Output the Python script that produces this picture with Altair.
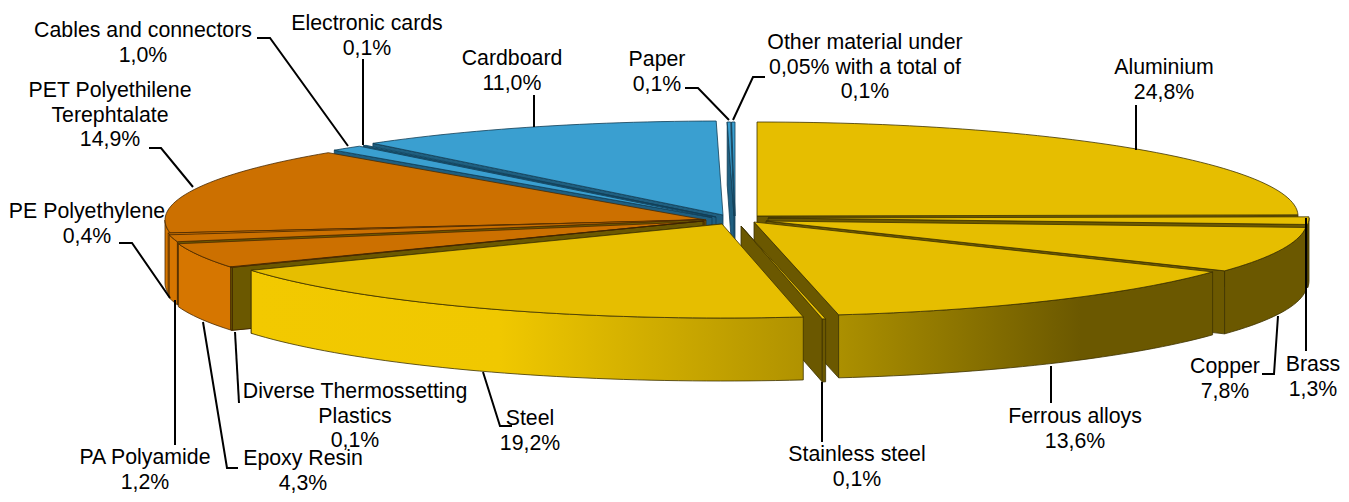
import math
import altair as alt
import pandas as pd

# ---- chart values -------------------------------------------------------
names = ["Aluminium", "Brass", "Copper", "Ferrous alloys", "Stainless steel", "Steel",
         "Diverse Thermossetting\nPlastics", "Epoxy Resin", "PA Polyamide", "PE Polyethylene",
         "PET Polyethilene\nTerephtalate", "Cables and connectors", "Electronic cards",
         "Cardboard", "Paper", "Other material under\n0,05% with a total of"]
values = [24.8, 1.3, 7.8, 13.6, 0.1, 19.2, 0.1, 4.3, 1.2, 0.4, 14.9, 1.0, 0.1, 11.0, 0.1, 0.1]
families = ["metal"] * 6 + ["diverse"] + ["plastic"] * 4 + ["paper"] * 5

# ---- exploded-pie layout (pixel space of the page) ----------------------
apex_x = [757, 768, 766, 754, 741, 722, 703, 704, 703, 704, 706, 712, 716, 723, 734, 735]
apex_y = [216, 218, 221, 222, 226, 224, 221, 221.5, 219.5, 220, 220, 217.5, 217, 215, 216, 216]
RX, RY, DEPTH = 541, 94, 63
draw_order = [15, 14, 13, 12, 11, 0, 10, 1, 9, 8, 2, 7, 6, 3, 4, 5]

TOP = {"metal": "#E6BE00", "diverse": "#CC7000", "plastic": "#CC7000", "paper": "#3A9FD0"}
SIDE = {"metal": "#6B5800", "diverse": "#6B5800", "plastic": "#6B5800", "paper": "#1F5F80"}
EDGE = {"metal": "#3D3200", "diverse": "#3D2500", "plastic": "#4A2A00", "paper": "#123E55"}
OUTER = {"metal": "#6B5800", "diverse": "#6B5800", "plastic": "#D67600", "paper": "#1F5F80"}


def gradient(stops):
    return {"gradient": "linear", "x1": 0, "x2": 1, "y1": 0, "y2": 0,
            "stops": [{"offset": o, "color": c} for o, c in stops]}


OUTER_GRADIENT = {
    "Steel": gradient([(0, "#F2C900"), (0.45, "#F0C800"), (1, "#B09200")]),
    "Ferrous alloys": gradient([(0, "#AC9000"), (0.65, "#6B5800"), (1, "#6B5800")]),
}

sx = alt.Scale(domain=[8, 1341], nice=False, zero=False)
sy = alt.Scale(domain=[494, 8], nice=False, zero=False)


def poly(points, fill, stroke, width=0.8):
    df = pd.DataFrame({"x": [p[0] for p in points] + [points[0][0]],
                       "y": [p[1] for p in points] + [points[0][1]],
                       "o": list(range(len(points) + 1))})
    return alt.Chart(df).mark_line(fill=fill, stroke=stroke, strokeWidth=width,
                                   strokeJoin="round").encode(
        x=alt.X("x:Q", scale=sx, axis=None),
        y=alt.Y("y:Q", scale=sy, axis=None),
        order=alt.Order("o:Q"))


def rim(cx, cy, deg):
    t = math.radians(deg)
    return (cx + RX * math.sin(t), cy - RY * math.cos(t))


def arc(cx, cy, a0, a1):
    n = max(2, int(abs(a1 - a0) / 1.5) + 2)
    return [rim(cx, cy, a0 + (a1 - a0) * k / (n - 1)) for k in range(n)]


def down(p):
    return (p[0], p[1] + DEPTH)


layers = []
total = sum(values)
starts = []
acc = 0.0
for v in values:
    starts.append(acc)
    acc += v

for i in draw_order:
    a0 = starts[i] / total * 360
    a1 = (starts[i] + values[i]) / total * 360
    cx, cy = apex_x[i], apex_y[i]
    fam = families[i]
    # radial wall that faces the viewer
    wall_a = a0 if a0 >= 180 else a1
    p = rim(cx, cy, wall_a)
    layers.append(poly([(cx, cy), p, down(p), down((cx, cy))], SIDE[fam], EDGE[fam]))
    # outer wall on the front half
    w0, w1 = max(a0, 90), min(a1, 270)
    if w1 > w0:
        top_edge = arc(cx, cy, w0, w1)
        bottom = [down(q) for q in reversed(top_edge)]
        fill = OUTER_GRADIENT.get(names[i], OUTER[fam])
        layers.append(poly(top_edge + bottom, fill, EDGE[fam]))
    # top face
    layers.append(poly([(cx, cy)] + arc(cx, cy, a0, a1), TOP[fam], EDGE[fam]))

# ---- labels and leader lines --------------------------------------------
pct = ["24,8%", "1,3%", "7,8%", "13,6%", "0,1%", "19,2%", "0,1%", "4,3%", "1,2%", "0,4%",
       "14,9%", "1,0%", "0,1%", "11,0%", "0,1%", "0,1%"]
label_x = [1164, 1313, 1225, 1075, 857, 530, 355, 303, 145, 87, 110, 143, 367, 512, 657, 865]
label_y = [68, 365, 367, 417, 455, 419, 392, 459, 458, 212, 91, 31, 24, 59, 60, 43]

leaders = [
    [(1136, 105), (1136, 150)],
    [(1306, 218), (1306, 351)],
    [(1262, 374), (1274, 374), (1278, 316)],
    [(1051, 366), (1051, 403)],
    [(822, 382), (822, 442)],
    [(483, 372), (500, 426), (512, 426)],
    [(235, 332), (239, 403)],
    [(203, 322), (227, 468), (238, 468)],
    [(175, 300), (175, 445)],
    [(119, 243), (132, 243), (170, 298)],
    [(149, 148), (161, 148), (193, 187)],
    [(257, 38), (270, 38), (348, 146)],
    [(363, 59), (363, 145)],
    [(534, 95), (534, 127)],
    [(685, 88), (698, 88), (729, 120)],
    [(765, 77), (753, 77), (733, 120)],
]
rows = []
for k, line in enumerate(leaders):
    for j, (x, y) in enumerate(line):
        rows.append({"x": x, "y": y, "o": j, "id": k})
leader_layer = alt.Chart(pd.DataFrame(rows)).mark_line(
    color="#000000", strokeWidth=2, strokeJoin="miter").encode(
    x=alt.X("x:Q", scale=sx, axis=None),
    y=alt.Y("y:Q", scale=sy, axis=None),
    detail="id:N",
    order=alt.Order("o:Q"))

label_df = pd.DataFrame({"t": [n + "\n" + p for n, p in zip(names, pct)],
                         "x": label_x, "y": label_y})
text_layer = alt.Chart(label_df).mark_text(
    font="Liberation Sans", fontSize=21.3, lineBreak="\n", lineHeight=24.5,
    baseline="middle", align="center", color="#000000").encode(
    x=alt.X("x:Q", scale=sx, axis=None),
    y=alt.Y("y:Q", scale=sy, axis=None),
    text="t:N")

chart = alt.layer(*layers, leader_layer, text_layer).properties(
    width=1333, height=486, padding=0, autosize="none",
    background="white").configure_view(stroke=None)

chart.save("out.html", embed_options={"renderer": "svg", "actions": False})
